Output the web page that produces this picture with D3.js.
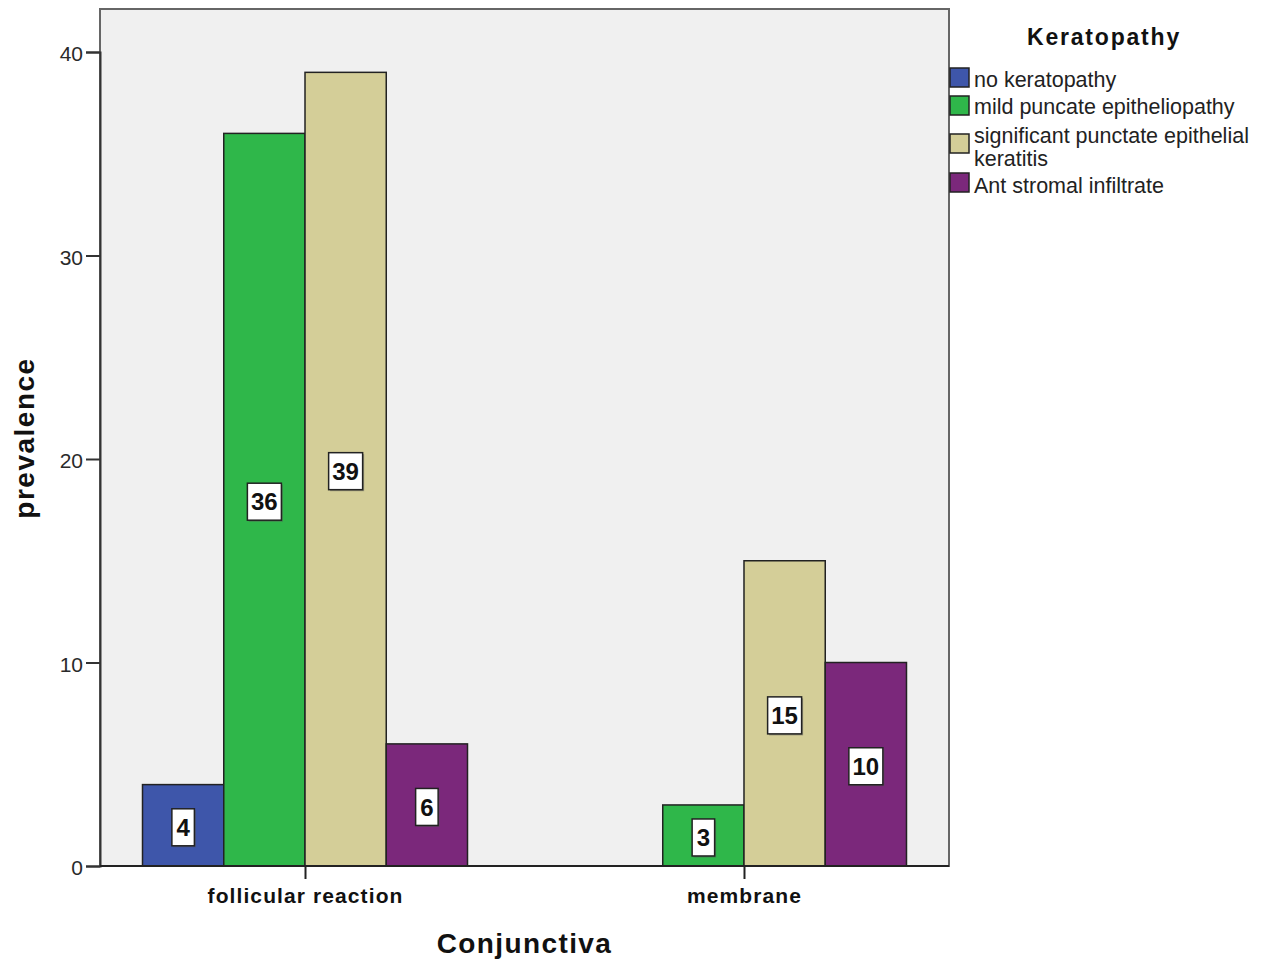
<!DOCTYPE html>
<html>
<head>
<meta charset="utf-8">
<script src="https://cdn.jsdelivr.net/npm/d3@7"></script>
<style>
  html, body { margin: 0; padding: 0; background: #ffffff; }
  svg { display: block; }
</style>
</head>
<body>
<svg id="chart" width="1274" height="962"></svg>
<script>
const categories = ["follicular reaction", "membrane"];
const seriesNames = ["no keratopathy", "mild puncate epitheliopathy", "significant punctate epithelial keratitis", "Ant stromal infiltrate"];
const legendLines = [["no keratopathy"], ["mild puncate epitheliopathy"], ["significant punctate epithelial", "keratitis"], ["Ant stromal infiltrate"]];
const seriesColors = ["#3e56aa", "#2fb74a", "#d4ce98", "#7b287b"];
const follicularValues = [4, 36, 39, 6];
const membraneValues = [0, 3, 15, 10];
const yTicks = [0, 10, 20, 30, 40];

const valuesByCategory = [follicularValues, membraneValues];

const svg = d3.select("#chart");
const plot = { left: 100, right: 949, top: 9, bottom: 866 };

const y = d3.scaleLinear().domain([0, 40]).range([plot.bottom, 52]);
const x0 = d3.scalePoint().domain(categories).range([plot.left, plot.right]).padding(0.467);
const x1 = d3.scaleBand().domain(seriesNames).range([-162.5, 162.5]).padding(0);
const color = d3.scaleOrdinal().domain(seriesNames).range(seriesColors);

// plot background
svg.append("rect")
  .attr("x", plot.left).attr("y", plot.top)
  .attr("width", plot.right - plot.left).attr("height", plot.bottom - plot.top)
  .attr("fill", "#f0f0f0").attr("stroke", "#666").attr("stroke-width", 2);

// bars
const data = [];
categories.forEach((c, i) => {
  seriesNames.forEach((s, j) => {
    data.push({ cat: c, series: s, value: valuesByCategory[i][j] });
  });
});
const bars = data.filter(d => d.value > 0);

svg.append("g").selectAll("rect").data(bars).join("rect")
  .attr("x", d => x0(d.cat) + x1(d.series))
  .attr("y", d => y(d.value))
  .attr("width", x1.bandwidth())
  .attr("height", d => y(0) - y(d.value))
  .attr("fill", d => color(d.series))
  .attr("stroke", "#222").attr("stroke-width", 1.5);

// y axis
const yAxis = d3.axisLeft(y).tickValues(yTicks).tickSize(14).tickPadding(3).tickFormat(d3.format("d"));
const yg = svg.append("g").attr("transform", `translate(${plot.left},0)`).call(yAxis);
yg.select(".domain").attr("stroke", "#333").attr("stroke-width", 2);
yg.selectAll(".tick line").attr("stroke", "#333").attr("stroke-width", 2);
yg.selectAll(".tick text")
  .attr("font-family", "Arial, 'Liberation Sans', sans-serif")
  .attr("font-size", 21).attr("fill", "#2a2a2a").attr("dy", "0.42em");

// x axis
const xAxis = d3.axisBottom(x0).tickSize(13).tickPadding(8);
const xg = svg.append("g").attr("transform", `translate(0,${plot.bottom})`).call(xAxis);
xg.select(".domain").attr("stroke", "#222").attr("stroke-width", 2).attr("d", `M${plot.left},0H${plot.right}`);
xg.selectAll(".tick line").attr("stroke", "#222").attr("stroke-width", 2);
xg.selectAll(".tick text")
  .attr("font-family", "Arial, 'Liberation Sans', sans-serif")
  .attr("font-size", 21).attr("font-weight", "bold").attr("fill", "#111")
  .attr("letter-spacing", "1.1px").attr("dy", "0.75em");

// value labels
const lblFont = "'Liberation Sans Narrow', 'Arial Narrow', sans-serif";
const lg = svg.append("g");
bars.forEach(d => {
  const cx = x0(d.cat) + x1(d.series) + x1.bandwidth() / 2;
  const cy = (y(d.value) + y(0)) / 2 + 2;
  const txt = String(d.value);
  const w = txt.length * 11.5 + 11;
  const h = 37;
  lg.append("rect").attr("x", cx - w / 2 + 1.5).attr("y", cy - h / 2 + 1.5)
    .attr("width", w).attr("height", h).attr("fill", "#555").attr("opacity", 0.5);
  lg.append("rect").attr("x", cx - w / 2).attr("y", cy - h / 2)
    .attr("width", w).attr("height", h).attr("fill", "#fff").attr("stroke", "#222").attr("stroke-width", 1.5);
  lg.append("text").attr("x", cx).attr("y", cy).attr("dy", "0.36em")
    .attr("text-anchor", "middle").attr("font-family", lblFont)
    .attr("font-weight", "bold").attr("font-size", 24).attr("fill", "#111")
    .text(txt);
});

// axis titles
svg.append("text")
  .attr("x", (plot.left + plot.right) / 2).attr("y", 953)
  .attr("text-anchor", "middle")
  .attr("font-family", "Arial, 'Liberation Sans', sans-serif")
  .attr("font-size", 28).attr("font-weight", "bold").attr("fill", "#111")
  .attr("letter-spacing", "1.4px")
  .text("Conjunctiva");

svg.append("text")
  .attr("transform", "translate(34,438) rotate(-90)")
  .attr("text-anchor", "middle")
  .attr("font-family", "Arial, 'Liberation Sans', sans-serif")
  .attr("font-size", 28).attr("font-weight", "bold").attr("fill", "#111")
  .attr("letter-spacing", "1.5px")
  .text("prevalence");

// legend
const leg = svg.append("g");
leg.append("text")
  .attr("x", 1104).attr("y", 45).attr("text-anchor", "middle")
  .attr("font-family", "Arial, 'Liberation Sans', sans-serif")
  .attr("font-size", 23).attr("font-weight", "bold").attr("fill", "#111")
  .attr("letter-spacing", "1.8px")
  .text("Keratopathy");

const swatchY = [68, 96, 134, 173];
const baseY = [[87], [114], [143, 166], [193]];
seriesNames.forEach((s, i) => {
  leg.append("rect").attr("x", 950).attr("y", swatchY[i])
    .attr("width", 19).attr("height", 19)
    .attr("fill", color(s)).attr("stroke", "#222").attr("stroke-width", 1.5);
  legendLines[i].forEach((line, k) => {
    leg.append("text").attr("x", 974).attr("y", baseY[i][k])
      .attr("font-family", "Arial, 'Liberation Sans', sans-serif")
      .attr("font-size", 21.5).attr("fill", "#222")
      .text(line);
  });
});
</script>
</body>
</html>
